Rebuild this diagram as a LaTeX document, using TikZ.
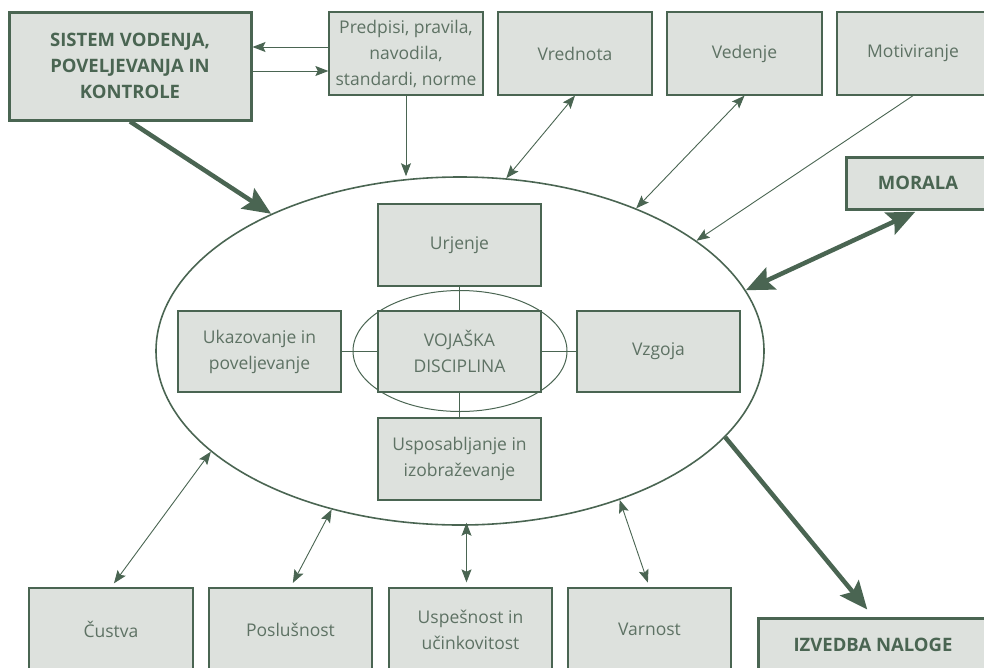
\documentclass[tikz,border=0pt]{standalone}
\usepackage{fontspec}
\setmainfont{Open Sans}
\usetikzlibrary{arrows.meta, shapes.geometric, positioning}

\definecolor{dgreen}{HTML}{4A6552}
\definecolor{tgreen}{HTML}{5E7264}
\definecolor{lgray}{HTML}{DDE1DD}

\tikzset{
  box/.style={draw=dgreen, line width=1.3pt, fill=lgray, text=tgreen, align=center,
    inner sep=0pt, font=\fontsize{17.5}{26}\selectfont},
  boldbox/.style={box, line width=3pt, text=dgreen, font=\fontsize{18.5}{26}\selectfont\bfseries},
  ring/.style={ellipse, draw=dgreen, inner sep=0pt},
  link/.style={draw=dgreen, line width=0.9pt,
    >={Stealth[length=13pt, width=10pt, inset=2.5pt]}},
  flow/.style={draw=dgreen, line width=4.5pt,
    >={Stealth[length=28pt, width=24pt, inset=5pt]}},
}

\begin{document}
\begin{tikzpicture}[x=1pt, y=-1pt]
  \useasboundingbox (0,0) rectangle (984,667);
  \clip (0,0) rectangle (984,667);

  \node[ring, line width=1.6pt, minimum width=608pt, minimum height=348pt] at (460,351) (outer) {};
  \node[ring, line width=1pt, minimum width=214pt, minimum height=121pt] at (460,351) (inner) {};

  \node[boldbox, minimum width=242pt, minimum height=108pt] at (130,66) (sistem) {SISTEM VODENJA,\\POVELJEVANJA IN\\KONTROLE};
  \node[box, minimum width=154pt, minimum height=83pt] at (406,53.5) (predpisi) {Predpisi, pravila,\\navodila,\\standardi, norme};
  \node[box, minimum width=154pt, minimum height=83pt] at (575,53.5) (vrednota) {Vrednota};
  \node[box, minimum width=155pt, minimum height=83pt] at (744.5,53.5) (vedenje) {Vedenje};
  \node[box, minimum width=152pt, minimum height=83pt] at (913,53.5) (motiviranje) {Motiviranje};
  \node[boldbox, minimum width=144pt, minimum height=52pt] at (918,183) (morala) {MORALA};

  \node[box, minimum width=163pt, minimum height=82pt] at (459.5,245) (urjenje) {Urjenje};
  \node[box, minimum width=163pt, minimum height=81pt] at (459.5,351.5) (vojaska) {VOJAŠKA\\DISCIPLINA};
  \node[box, minimum width=163pt, minimum height=81pt] at (259.5,351.5) (ukazovanje) {Ukazovanje in\\poveljevanje};
  \node[box, minimum width=163pt, minimum height=81pt] at (658.5,351.5) (vzgoja) {Vzgoja};
  \node[box, minimum width=163pt, minimum height=82pt] at (459.5,459) (usposabljanje) {Usposabljanje in\\izobraževanje};

  \node[box, minimum width=164pt, minimum height=83pt] at (111,629.5) (custva) {Čustva};
  \node[box, minimum width=163pt, minimum height=83pt] at (290.5,629.5) (poslusnost) {Poslušnost};
  \node[box, minimum width=163pt, minimum height=83pt] at (470.5,629.5) (uspesnost) {Uspešnost in\\učinkovitost};
  \node[box, minimum width=163pt, minimum height=83pt] at (649.5,629.5) (varnost) {Varnost};
  \node[boldbox, minimum width=230pt, minimum height=54pt] at (873,645) (izvedba) {IZVEDBA NALOGE};

  % spokes of the discipline cross
  \draw[link] (urjenje) -- (vojaska);
  \draw[link] (usposabljanje) -- (vojaska);
  \draw[link] (ukazovanje) -- (vojaska);
  \draw[link] (vzgoja) -- (vojaska);

  \coordinate (pa) at ([yshift=6.5pt]predpisi.west);
  \coordinate (pb) at ([yshift=-17.5pt]predpisi.west);
  \draw[link, ->] (pa) -- (pa -| sistem.east);
  \draw[link, ->] (pb -| sistem.east) -- (pb);
  \draw[link, ->] (predpisi.south) -- (predpisi.south |- outer.north);

  \draw[link, <->] (vrednota.south) -- (outer.75);
  \draw[link, <->] (vedenje.south) -- (outer.39);
  \draw[link, ->] (motiviranje.south) -- (outer.25);

  \draw[link, <->, shorten <=5pt] (custva.north) -- (outer.202);
  \draw[link, <->, shorten <=5pt] (poslusnost.north) -- (outer.231);
  \draw[link, <->, shorten <=5pt, shorten >=-3pt] ([xshift=-4pt]uspesnost.north) -- ([xshift=-4pt]uspesnost.north |- outer.south);
  \draw[link, <->, shorten <=5pt] (varnost.north) -- (outer.-43);

  \draw[flow, ->] (sistem.south) -- (outer.144);
  \draw[flow, <->, shorten <=3pt] (morala.south) -- (outer.12);
  \draw[flow, ->, shorten >=9pt] (outer.-18) -- (izvedba.north);
\end{tikzpicture}
\end{document}
